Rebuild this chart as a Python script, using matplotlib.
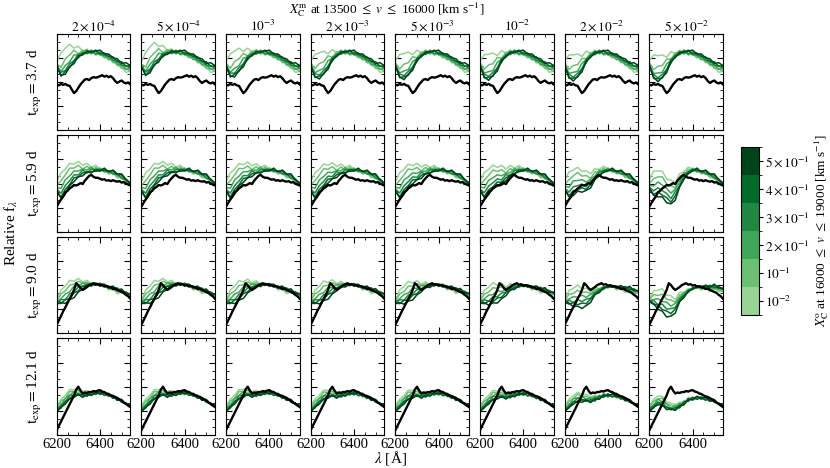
import numpy as np
import matplotlib.pyplot as plt
from matplotlib.colors import ListedColormap, BoundaryNorm
from matplotlib.cm import ScalarMappable
from matplotlib.ticker import MultipleLocator

plt.rcParams['font.family'] = ['Liberation Serif', 'DejaVu Serif']
plt.rcParams['mathtext.fontset'] = 'stix'

# column / row / colour-bar labels
mid_carbon = [r"$2\times10^{-4}$", r"$5\times10^{-4}$", r"$10^{-3}$", r"$2\times10^{-3}$",
              r"$5\times10^{-3}$", r"$10^{-2}$", r"$2\times10^{-2}$", r"$5\times10^{-2}$"]
epochs = ["3.7", "5.9", "9.0", "12.1"]
outer_carbon = [r"$10^{-2}$", r"$10^{-1}$", r"$2\times10^{-1}$", r"$3\times10^{-1}$",
                r"$4\times10^{-1}$", r"$5\times10^{-1}$"]

# observed spectra (black), 10 A steps
wave_obs = [6200, 6210, 6220, 6230, 6240, 6250, 6260, 6270, 6280, 6290, 6300, 6310,
            6320, 6330, 6340, 6350, 6360, 6370, 6380, 6390, 6400, 6410, 6420, 6430,
            6440, 6450, 6460, 6470, 6480, 6490, 6500, 6510, 6520, 6530, 6540]
obs_37 = [0.47, 0.465, 0.48, 0.47, 0.48, 0.465, 0.46, 0.42, 0.385, 0.405, 0.44, 0.475,
          0.50, 0.525, 0.53, 0.52, 0.54, 0.55, 0.545, 0.55, 0.56, 0.57, 0.555, 0.565,
          0.55, 0.56, 0.54, 0.51, 0.49, 0.505, 0.515, 0.495, 0.485, 0.495, 0.475]
obs_59 = [0.26, 0.30, 0.335, 0.365, 0.41, 0.425, 0.45, 0.465, 0.485, 0.48, 0.49, 0.505,
          0.495, 0.53, 0.555, 0.58, 0.59, 0.57, 0.56, 0.56, 0.55, 0.54, 0.545, 0.53,
          0.535, 0.525, 0.535, 0.525, 0.52, 0.525, 0.51, 0.515, 0.50, 0.49, 0.48]
obs_90 = [0.09, 0.135, 0.18, 0.23, 0.27, 0.315, 0.36, 0.40, 0.45, 0.52, 0.50, 0.47,
          0.45, 0.465, 0.48, 0.50, 0.51, 0.52, 0.505, 0.51, 0.495, 0.50, 0.485, 0.49,
          0.475, 0.475, 0.46, 0.465, 0.45, 0.44, 0.43, 0.42, 0.40, 0.385, 0.36]
obs_121 = [0.05, 0.095, 0.14, 0.185, 0.23, 0.275, 0.32, 0.365, 0.41, 0.47, 0.50, 0.46,
           0.43, 0.44, 0.435, 0.445, 0.445, 0.455, 0.45, 0.46, 0.465, 0.45, 0.445, 0.43,
           0.425, 0.41, 0.40, 0.395, 0.38, 0.37, 0.355, 0.335, 0.325, 0.305, 0.29]
obs_flux = [obs_37, obs_59, obs_90, obs_121]

# model spectra (greens) for the lowest middle-carbon column, 20 A steps,
# one list per outer-carbon level (light -> dark)
wave_model = [6200, 6220, 6240, 6260, 6280, 6300, 6320, 6340, 6360, 6380, 6400, 6420,
              6440, 6460, 6480, 6500, 6520, 6540]
model_37 = [
    [0.71, 0.80, 0.85, 0.89, 0.85, 0.87, 0.82, 0.84, 0.80, 0.82, 0.78, 0.79, 0.74, 0.73, 0.67, 0.66, 0.60, 0.61],
    [0.69, 0.65, 0.74, 0.78, 0.83, 0.79, 0.83, 0.79, 0.82, 0.78, 0.79, 0.75, 0.76, 0.70, 0.70, 0.64, 0.64, 0.61],
    [0.67, 0.61, 0.67, 0.71, 0.78, 0.78, 0.81, 0.83, 0.79, 0.82, 0.78, 0.78, 0.73, 0.74, 0.68, 0.68, 0.63, 0.64],
    [0.65, 0.60, 0.62, 0.69, 0.72, 0.79, 0.79, 0.80, 0.83, 0.79, 0.81, 0.77, 0.78, 0.72, 0.72, 0.67, 0.67, 0.64],
    [0.67, 0.56, 0.61, 0.65, 0.72, 0.75, 0.80, 0.80, 0.81, 0.83, 0.79, 0.80, 0.76, 0.76, 0.71, 0.71, 0.66, 0.67],
    [0.66, 0.57, 0.58, 0.66, 0.69, 0.77, 0.78, 0.82, 0.81, 0.82, 0.83, 0.79, 0.79, 0.75, 0.74, 0.69, 0.70, 0.67],
]
model_59 = [
    [0.52, 0.61, 0.65, 0.71, 0.70, 0.73, 0.69, 0.71, 0.67, 0.69, 0.65, 0.65, 0.61, 0.61, 0.56, 0.56, 0.51, 0.50],
    [0.48, 0.53, 0.59, 0.66, 0.66, 0.69, 0.65, 0.68, 0.64, 0.67, 0.63, 0.64, 0.60, 0.61, 0.57, 0.57, 0.52, 0.51],
    [0.46, 0.45, 0.54, 0.58, 0.63, 0.63, 0.65, 0.64, 0.67, 0.63, 0.66, 0.62, 0.63, 0.60, 0.60, 0.55, 0.55, 0.50],
    [0.44, 0.40, 0.48, 0.53, 0.59, 0.59, 0.64, 0.61, 0.65, 0.64, 0.64, 0.63, 0.63, 0.60, 0.60, 0.56, 0.54, 0.49],
    [0.43, 0.36, 0.44, 0.49, 0.56, 0.57, 0.61, 0.62, 0.61, 0.65, 0.64, 0.64, 0.63, 0.63, 0.59, 0.59, 0.54, 0.51],
    [0.42, 0.35, 0.39, 0.48, 0.52, 0.57, 0.58, 0.62, 0.62, 0.63, 0.63, 0.66, 0.62, 0.64, 0.60, 0.60, 0.54, 0.50],
]
model_90 = [
    [0.34, 0.45, 0.49, 0.55, 0.54, 0.57, 0.53, 0.55, 0.51, 0.52, 0.49, 0.50, 0.45, 0.46, 0.41, 0.43, 0.39, 0.39],
    [0.33, 0.41, 0.44, 0.50, 0.51, 0.54, 0.52, 0.53, 0.51, 0.52, 0.50, 0.50, 0.46, 0.47, 0.43, 0.43, 0.40, 0.39],
    [0.32, 0.36, 0.41, 0.43, 0.49, 0.49, 0.52, 0.51, 0.52, 0.51, 0.51, 0.49, 0.49, 0.45, 0.46, 0.42, 0.42, 0.40],
    [0.32, 0.35, 0.35, 0.41, 0.43, 0.48, 0.49, 0.51, 0.50, 0.52, 0.50, 0.50, 0.48, 0.48, 0.44, 0.45, 0.41, 0.41],
    [0.31, 0.31, 0.35, 0.36, 0.42, 0.44, 0.49, 0.49, 0.51, 0.50, 0.52, 0.49, 0.49, 0.47, 0.47, 0.43, 0.43, 0.40],
    [0.31, 0.32, 0.31, 0.35, 0.37, 0.43, 0.46, 0.50, 0.49, 0.52, 0.51, 0.51, 0.48, 0.49, 0.45, 0.46, 0.41, 0.41],
]
model_121 = [
    [0.30, 0.37, 0.41, 0.47, 0.47, 0.48, 0.45, 0.46, 0.43, 0.46, 0.43, 0.44, 0.40, 0.40, 0.36, 0.36, 0.31, 0.30],
    [0.28, 0.35, 0.38, 0.45, 0.45, 0.46, 0.43, 0.45, 0.42, 0.45, 0.42, 0.44, 0.40, 0.41, 0.36, 0.36, 0.32, 0.30],
    [0.27, 0.31, 0.38, 0.41, 0.45, 0.43, 0.44, 0.42, 0.45, 0.42, 0.45, 0.41, 0.43, 0.38, 0.39, 0.34, 0.33, 0.29],
    [0.26, 0.31, 0.34, 0.41, 0.41, 0.43, 0.40, 0.44, 0.41, 0.45, 0.42, 0.44, 0.40, 0.41, 0.36, 0.37, 0.32, 0.30],
    [0.25, 0.28, 0.35, 0.37, 0.42, 0.41, 0.42, 0.40, 0.44, 0.42, 0.45, 0.41, 0.42, 0.38, 0.39, 0.34, 0.33, 0.29],
    [0.24, 0.29, 0.32, 0.38, 0.39, 0.42, 0.39, 0.42, 0.41, 0.44, 0.43, 0.44, 0.41, 0.41, 0.36, 0.36, 0.32, 0.31],
]
model_flux = [model_37, model_59, model_90, model_121]

# C II trough profile per epoch, its depth per middle-carbon column,
# and how strongly each outer-carbon level feels it
trough_37 = [-0.1, 0.2, 0.7, 1.0, 0.85, 0.5, 0.25, 0.1, 0, 0, 0, 0, 0, 0, 0, 0, 0, 0]
trough_59 = [-0.1, -0.1, 0.1, 0.42, 0.78, 1.0, 0.9, 0.55, 0.25, 0.1, 0, 0, 0, 0, 0, 0, 0, 0]
trough_90 = [-0.08, 0.04, 0.24, 0.48, 0.8, 1.0, 1.0, 0.68, 0.48, 0.32, 0.2, 0.08, 0, -0.04, -0.12, -0.2, -0.24, -0.24]
trough_121 = [0, 0, 0.05, 0.45, 0.85, 1.0, 0.9, 0.8, 0.65, 0.47, 0.4, 0.27, 0.2, 0.13, 0.07, 0, 0, -0.1]
troughs = [trough_37, trough_59, trough_90, trough_121]

depth_37 = [0, -0.02, 0.04, 0.07, 0.08, 0.09, 0.10, 0.11]
depth_59 = [0, 0, 0.01, 0.02, 0.03, 0.06, 0.14, 0.28]
depth_90 = [0, 0, 0.01, 0.02, 0.03, 0.07, 0.14, 0.25]
depth_121 = [0, 0, 0, 0.01, 0.01, 0.02, 0.06, 0.15]
depths = [depth_37, depth_59, depth_90, depth_121]

weight_37 = [1, 1, 1, 1, 1, 1]
weight_59 = [0.7, 0.76, 0.82, 0.88, 0.94, 1.0]
weight_90 = [0.72, 0.78, 0.83, 0.89, 0.94, 1.0]
weight_121 = [1, 1, 1, 1, 1, 1]
weights = [weight_37, weight_59, weight_90, weight_121]

greens = plt.cm.Greens(np.linspace(0.4, 1.0, 6))

fig = plt.figure(figsize=(8.3, 4.68), dpi=100)
gs = fig.add_gridspec(4, 8, left=0.0683, right=0.871, top=0.928, bottom=0.0705,
                      wspace=0.15, hspace=0.052)

for r in range(4):
    for c in range(8):
        ax = fig.add_subplot(gs[r, c])
        tr = np.array(troughs[r])
        for k in range(6):
            y = np.array(model_flux[r][k]) - depths[r][c] * weights[r][k] * tr
            ax.plot(wave_model, y, color=greens[k], lw=1.1)
        ax.plot(wave_obs, obs_flux[r], color='black', lw=1.7)

        ax.set_xlim(6200, 6540)
        ax.set_ylim(0, 1)
        ax.xaxis.set_major_locator(MultipleLocator(200))
        ax.xaxis.set_minor_locator(MultipleLocator(50))
        ax.yaxis.set_major_locator(MultipleLocator(0.25))
        ax.yaxis.set_minor_locator(MultipleLocator(0.25 / 3))
        ax.tick_params(which='both', direction='in', top=True, right=True)
        ax.tick_params(which='major', length=4, labelsize=10.5, pad=2)
        ax.tick_params(which='minor', length=2)
        ax.set_yticklabels([])
        if r < 3:
            ax.set_xticklabels([])
        if r == 0:
            ax.set_title(mid_carbon[c], fontsize=9.5, pad=0.5)
        if c == 0:
            ax.set_ylabel(r"$\mathrm{t_{exp}}=$" + epochs[r] + " d", fontsize=11, labelpad=6)

fig.text(0.466, 0.972, r"$X_{\rm C}^{\rm m}$ at 13500 $\leq$ $v$ $\leq$ 16000 [km s$^{-1}$]",
         ha='center', va='baseline', fontsize=9.5)
fig.text(0.014, 0.502, r"Relative f$_\lambda$", rotation=90, ha='center', va='center', fontsize=11)
fig.text(0.471, 0.021, r"$\lambda$ [Å]", ha='center', va='center', fontsize=11)

# discrete colour bar for the outer-carbon levels
cax = fig.add_axes([0.893, 0.327, 0.0217, 0.359])
cmap = ListedColormap(greens)
norm = BoundaryNorm(np.arange(7), 6)
cb = fig.colorbar(ScalarMappable(norm=norm, cmap=cmap), cax=cax, ticks=np.arange(6) + 0.5)
cb.set_ticklabels(outer_carbon)
cb.ax.tick_params(direction='out', length=3, labelsize=9.5, pad=1.5)
cb.outline.set_linewidth(0.8)
cb.set_label(r"$X_{\rm C}^{\rm o}$ at 16000 $\leq$ $v$ $\leq$ 19000 [km s$^{-1}$]",
             fontsize=9.5, labelpad=2)

fig.savefig("out.png", dpi=100)
